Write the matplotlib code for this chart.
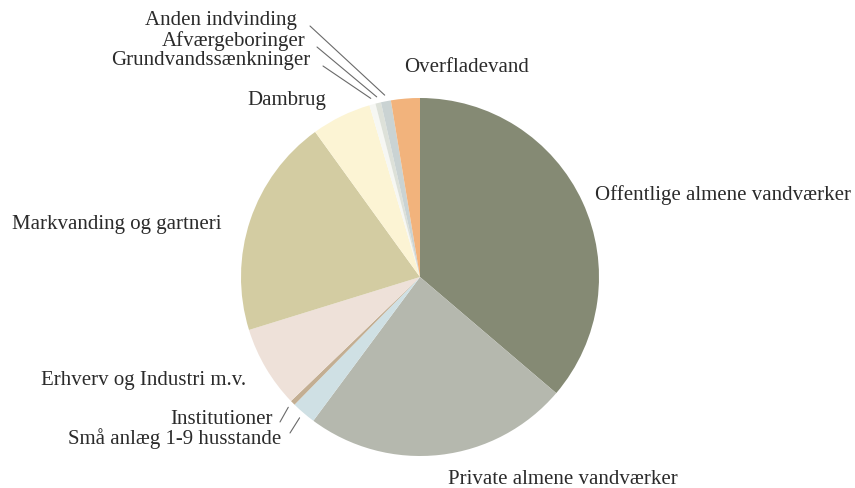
import numpy as np
import matplotlib
matplotlib.use("Agg")
import matplotlib.pyplot as plt

# shares in percent, clockwise from 12 o'clock
labels = [
    "Offentlige almene vandværker",
    "Private almene vandværker",
    "Små anlæg 1-9 husstande",
    "Institutioner",
    "Erhverv og Industri m.v.",
    "Markvanding og gartneri",
    "Dambrug",
    "Grundvandssænkninger",
    "Afværgeboringer",
    "Anden indvinding",
    "Overfladevand",
]
values = [36.2, 23.9, 2.2, 0.45, 7.4, 19.8, 5.4, 0.55, 0.5, 0.9, 2.6]
colors = ["#858a74", "#b5b8ae", "#cfe0e4", "#c3ae92", "#eee1d9", "#d3cca2",
          "#fcf4d4", "#f6f7f3", "#dde1d9", "#cad3d3", "#f2b37c"]

W, H = 855, 488
TXT = "#2b2b2b"

# label placement in figure pixels (x, y from top, ha)
label_pos = {
    "Offentlige almene vandværker": (595, 195, "left"),
    "Private almene vandværker": (448, 480, "left"),
    "Små anlæg 1-9 husstande": (281, 439, "right"),
    "Institutioner": (273, 420, "right"),
    "Erhverv og Industri m.v.": (246, 381, "right"),
    "Markvanding og gartneri": (222, 224, "right"),
    "Dambrug": (326, 101, "right"),
    "Grundvandssænkninger": (310, 61, "right"),
    "Afværgeboringer": (306, 41, "right"),
    "Anden indvinding": (297, 21, "right"),
    "Overfladevand": (404, 68, "left"),
}
# leader line start points (figure pixels) for the thin slices
leader_start = {
    "Grundvandssænkninger": (323, 66),
    "Afværgeboringer": (317, 47),
    "Anden indvinding": (310, 26),
    "Institutioner": (280, 422),
    "Små anlæg 1-9 husstande": (290, 433),
}

fig = plt.figure(figsize=(W / 100, H / 100), dpi=100)
cx, cy, r = 420, 277, 179
ax = fig.add_axes([(cx - r) / W, (H - cy - r) / H, 2 * r / W, 2 * r / H])
wedges, _ = ax.pie(values, colors=colors, startangle=90, counterclock=False,
                   radius=1, wedgeprops=dict(linewidth=0))
ax.set_xlim(-1, 1)
ax.set_ylim(-1, 1)
ax.set_aspect("equal")
ax.axis("off")

for name, (x, y, ha) in label_pos.items():
    fig.text(x / W, 1 - y / H, name, ha=ha, va="center", fontsize=15,
             family="Liberation Serif", color=TXT)

for w, name in zip(wedges, labels):
    if name not in leader_start:
        continue
    mid = np.deg2rad((w.theta1 + w.theta2) / 2)
    sx, sy = leader_start[name]
    ax.annotate("", xy=(1.035 * np.cos(mid), 1.035 * np.sin(mid)), xycoords="data",
                xytext=(sx, H - sy), textcoords="figure pixels",
                annotation_clip=False,
                arrowprops=dict(arrowstyle="-", color="#6a6a6a", lw=0.8,
                                shrinkA=0, shrinkB=0))

fig.savefig("out.png", dpi=100, facecolor="white")
